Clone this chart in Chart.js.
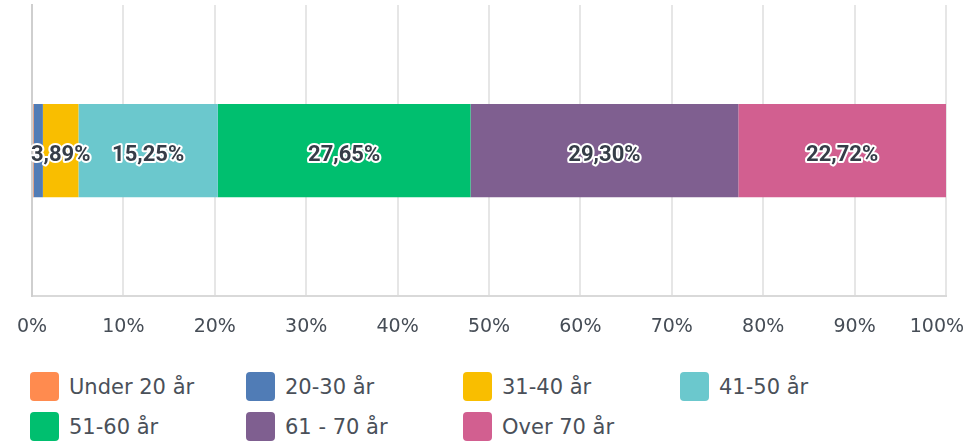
<!DOCTYPE html>
<html>
<head>
<meta charset="utf-8">
<script src="https://cdn.jsdelivr.net/npm/chart.js@4"></script>
<style>
  html, body { margin: 0; padding: 0; background: #fff; }
  #wrap { position: relative; width: 967px; height: 357px; }
  #legend {
    position: absolute; left: 30px; top: 372px; width: 937px;
    display: grid; grid-template-columns: 216px 217px 217px 217px;
    row-gap: 11px;
    font-family: "DejaVu Sans", "Liberation Sans", sans-serif; font-size: 21px; color: #4a5059;
  }
  .item { display: flex; align-items: center; height: 29px; }
  .box { width: 29px; height: 29px; border-radius: 4px; margin-right: 10px; flex: none; }
</style>
</head>
<body>
<div id="wrap"><canvas id="c" width="967" height="357"></canvas></div>
<div id="legend"></div>
<script>
// Age groups and their share of respondents (%)
const categories = ['Aldersfordeling'];
const ageGroups = ['Under 20 år', '20-30 år', '31-40 år', '41-50 år', '51-60 år', '61 - 70 år', 'Over 70 år'];
const shares = [0.17, 1.02, 3.89, 15.25, 27.65, 29.30, 22.72];
const colors = ['#ff8b4f', '#507cb6', '#f9be00', '#6bc8cd', '#00bf6f', '#7f5f90', '#d25f90'];
const tickValues = [0, 10, 20, 30, 40, 50, 60, 70, 80, 90, 100];

const fmt = v => v.toFixed(2).replace('.', ',') + '%';

// Value labels drawn with a white halo, centred in each segment
const segmentLabels = {
  id: 'segmentLabels',
  afterDatasetsDraw(chart) {
    const ctx = chart.ctx;
    ctx.save();
    ctx.font = 'bold 22px "Roboto", "Liberation Sans", sans-serif';
    ctx.textAlign = 'center';
    ctx.textBaseline = 'middle';
    ctx.lineJoin = 'round';
    chart.data.datasets.forEach((ds, i) => {
      const v = ds.data[0];
      if (v < 2) return;
      const bar = chart.getDatasetMeta(i).data[0];
      const x = (bar.x + bar.base) / 2;
      const y = bar.y + 5;
      ctx.lineWidth = 4;
      ctx.strokeStyle = '#ffffff';
      ctx.strokeText(fmt(v), x, y);
      ctx.fillStyle = '#363d48';
      ctx.fillText(fmt(v), x, y);
    });
    ctx.restore();
  }
};

const chart = new Chart(document.getElementById('c'), {
  type: 'bar',
  data: {
    labels: categories,
    datasets: ageGroups.map((g, i) => ({
      label: g,
      data: [shares[i]],
      backgroundColor: colors[i],
      borderWidth: 0,
      barPercentage: 0.32,
      categoryPercentage: 1.0
    }))
  },
  options: {
    indexAxis: 'y',
    responsive: false,
    animation: false,
    layout: { padding: { left: 0, right: 0, top: 5, bottom: 0 } },
    plugins: { legend: { display: false }, tooltip: { enabled: false } },
    scales: {
      x: {
        stacked: true,
        min: 0, max: 100,
        afterBuildTicks: axis => { axis.ticks = tickValues.map(v => ({ value: v })); },
        afterFit: axis => { axis.paddingLeft = 0; axis.paddingRight = 21; },
        grid: { color: '#e6e6e6', lineWidth: 2, drawTicks: false },
        border: { color: '#d9d9d9', width: 2 },
        ticks: {
          padding: 19,
          color: '#464d56',
          font: { family: '"DejaVu Sans", sans-serif', size: 19 },
          // the last label is nudged inward so it stays on the canvas
          callback: v => v === 100 ? v + '%   ' : v + '%'
        }
      },
      y: {
        stacked: true,
        afterFit: axis => { axis.width = 32; },
        grid: { display: false },
        border: { color: '#cfcfcf', width: 2 },
        ticks: { display: false }
      }
    }
  },
  plugins: [segmentLabels]
});

// Legend built from the chart's datasets
const legend = document.getElementById('legend');
chart.data.datasets.forEach(ds => {
  const item = document.createElement('div');
  item.className = 'item';
  const box = document.createElement('span');
  box.className = 'box';
  box.style.background = ds.backgroundColor;
  const txt = document.createElement('span');
  txt.textContent = ds.label;
  item.appendChild(box);
  item.appendChild(txt);
  legend.appendChild(item);
});
</script>
</body>
</html>
